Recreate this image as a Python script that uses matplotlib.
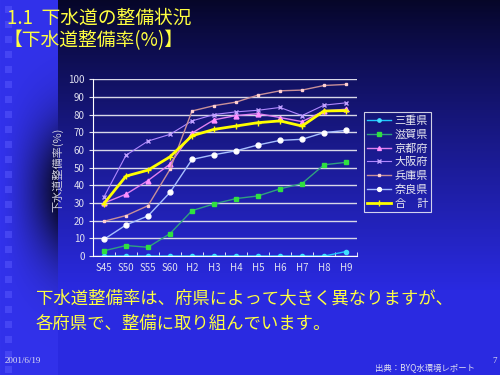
import numpy as np
import matplotlib.pyplot as plt

plt.rcParams['font.family'] = ['Noto Sans CJK JP', 'DejaVu Sans']

# data
years = ['S45', 'S50', 'S55', 'S60', 'H2', 'H3', 'H4', 'H5', 'H6', 'H7', 'H8', 'H9']
mie = [0, 0, 0, 0, 0, 0, 0, 0, 0, 0, 0, 2.6]
shiga = [3, 6, 5, 12.7, 25.7, 29.5, 32.5, 34, 38, 41, 51.6, 53]
kyoto = [30, 35, 42.7, 52, 69.5, 77, 79.4, 80.5, 78.3, 76, 82, 83]
osaka = [33.5, 57, 65, 68.8, 76.4, 80, 81.5, 82.4, 84, 79.4, 85.3, 86.6]
hyogo = [19.7, 22.9, 28.5, 49, 82, 85, 87, 91, 93.4, 93.8, 96.4, 97]
nara = [9.5, 17.6, 22.7, 36, 54.6, 57.3, 59.5, 62.8, 65.4, 66, 69.8, 71]
total = [29.7, 45.2, 48.6, 56.1, 68, 71.6, 73.5, 75.4, 76.4, 73.5, 82, 82.2]

fig = plt.figure(figsize=(5, 3.75), dpi=100)

# slide background: dark navy -> blue, left strip with squares
H, W = 375, 500
yy, xx = np.mgrid[0:H, 0:W].astype(float)
t = np.clip(yy / 290, 0, 1)[..., None]
dark = np.array([6, 6, 40]) / 255
blue = np.array([42, 42, 225]) / 255
img = dark + (blue - dark) * t ** 0.9
strip = xx < 58
shade = 1 - 0.85 * np.exp(-((yy - 190) / 70) ** 2) * (xx / 58) ** 1.5
bright = np.array([50, 50, 235]) / 255
img[strip] = (bright[None, :] * shade[strip][:, None])
for k in range(25):
    y0 = 6 + 15 * k
    img[y0:y0 + 7, 5:12] = img[y0:y0 + 7, 5:12] * 0.5 + np.array([90, 90, 255]) / 255 * 0.5
bg = fig.add_axes([0, 0, 1, 1], zorder=-1)
bg.imshow(img, aspect='auto', interpolation='bilinear')
bg.axis('off')

ax = fig.add_axes([0.186, 0.317, 0.528, 0.472])
ax.set_facecolor('none')
x = np.arange(len(years))

ax.plot(x, mie, color='#20c8ff', lw=1, marker='o', ms=3, mfc='#40e0ff', mec='#40e0ff', label='三重県')
ax.plot(x, shiga, color='#30a080', lw=1, marker='s', ms=3.5, mfc='#30e040', mec='#30e040', label='滋賀県')
ax.plot(x, kyoto, color='#e080f0', lw=1, marker='^', ms=3.5, mfc='#ff90ff', mec='#ff90ff', label='京都府')
ax.plot(x, osaka, color='#b088ff', lw=0.8, marker='x', ms=3, mec='#c0a0ff', label='大阪府')
ax.plot(x, hyogo, color='#c89098', lw=1, marker='s', ms=2, mfc='#ffd0d0', mec='#ffd0d0', label='兵庫県')
ax.plot(x, nara, color='#a8c0ff', lw=1, marker='o', ms=3.5, mfc='white', mec='white', label='奈良県')
ax.plot(x, total, color='#ffff00', lw=2, marker='+', ms=5, mew=1, label='合\u3000計')

ax.set_xlim(-0.5, len(years) - 0.5)
ax.set_ylim(0, 100)
ax.set_yticks(range(0, 101, 10))
ax.yaxis.grid(True, color='#d8d8e8', lw=1)
ax.set_axisbelow(True)
ax.set_xticks(x)
ax.set_xticklabels(years)
ax.set_xticks(np.arange(-0.5, len(years)), minor=True)
ax.tick_params(axis='x', which='major', length=0, colors='#e0e0f0', labelsize=7, pad=5)
ax.tick_params(axis='x', which='minor', direction='in', length=3, color='white')
ax.tick_params(axis='y', length=3, colors='#e0e0f0', labelsize=7, pad=3)
for s in ['top', 'right']:
    ax.spines[s].set_visible(False)
ax.spines['left'].set_color('white')
ax.spines['bottom'].set_color('white')

leg = ax.legend(loc='upper left', bbox_to_anchor=(1.025, 0.815), fontsize=8, frameon=True,
                fancybox=False, handlelength=2.2, handletextpad=0.3, labelspacing=0.33,
                borderpad=0.3, borderaxespad=0, markerscale=0.8)
leg.get_frame().set_facecolor('none')
leg.get_frame().set_edgecolor('white')
leg.get_frame().set_linewidth(0.8)
for txt in leg.get_texts():
    txt.set_color('#e8e8f0')

fig.text(0.115, 0.547, '下水道整備率(%)', rotation=90, color='#d0d0e0', fontsize=8, ha='center', va='center')

# titles and slide texts
fig.text(0.014, 0.952, '1.1  下水道の整備状況', color='#ffff40', fontsize=13.5, va='center')
fig.text(0.008, 0.893, '【下水道整備率(%)】', color='#ffff40', fontsize=13.5, va='center')
fig.text(0.072, 0.205, '下水道整備率は、府県によって大きく異なりますが、', color='#ffff40', fontsize=12.5, va='center')
fig.text(0.072, 0.137, '各府県で、整備に取り組んでいます。', color='#ffff40', fontsize=12.5, va='center')
fig.text(0.01, 0.038, '2001/6/19', color='#e0e0f0', fontsize=6.5, family='Liberation Serif', va='center')
fig.text(0.75, 0.02, '出典：BYQ水環境レポート', color='#e0e0f0', fontsize=6, va='center')
fig.text(0.984, 0.038, '7', color='#e0e0f0', fontsize=6.5, family='Liberation Serif', va='center')

plt.savefig('out.png', dpi=100)
